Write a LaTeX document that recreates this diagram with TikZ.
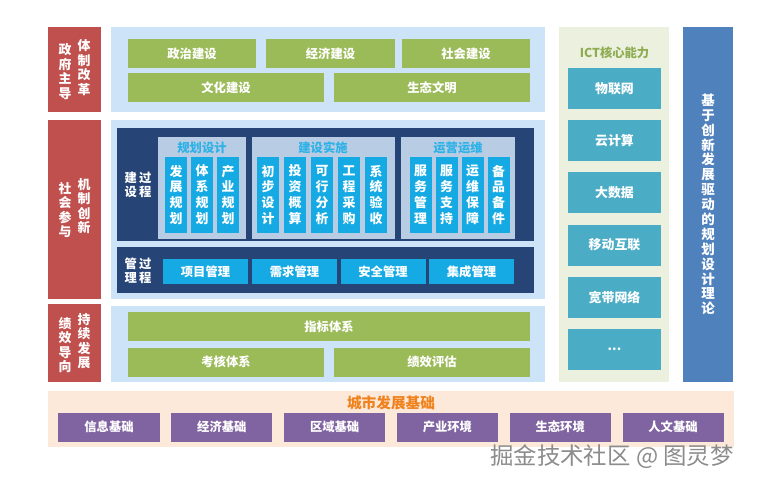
\documentclass[tikz,border=0pt]{standalone}
\usepackage{fontspec}
\setmainfont{Noto Sans CJK SC}
\definecolor{redc}{RGB}{192,80,77}
\definecolor{panelc}{RGB}{205,228,248}
\definecolor{grnc}{RGB}{155,187,89}
\definecolor{navyc}{RGB}{38,68,118}
\definecolor{subc}{RGB}{184,204,228}
\definecolor{cyanc}{RGB}{22,170,228}
\definecolor{ictbgc}{RGB}{235,241,222}
\definecolor{tealc}{RGB}{75,172,198}
\definecolor{bluec}{RGB}{79,129,189}
\definecolor{peachc}{RGB}{253,233,217}
\definecolor{orangec}{RGB}{240,130,30}
\definecolor{purplec}{RGB}{128,100,162}

\begin{document}
\begin{tikzpicture}[x=0.03cm, y=-0.03cm,
  box/.style={rectangle, inner sep=0pt, text=white, align=center,
    font=\fontsize{10.5}{12}\selectfont\bfseries},
  redbox/.style={box, fill=redc, minimum width=1.59cm},
  redtxt/.style={inner sep=0pt, text=white, align=center,
    font=\fontsize{11}{12.4}\selectfont\bfseries},
  grn/.style={box, fill=grnc, minimum height=0.87cm},
  lbl/.style={inner sep=0pt, text=white, align=center,
    font=\fontsize{10.5}{11.5}\selectfont\bfseries},
  sub/.style={inner sep=0pt, text=cyanc!90!white, font=\fontsize{10.5}{12}\selectfont\bfseries},
  col/.style={box, fill=cyanc, minimum width=0.66cm, minimum height=2.28cm,
    font=\fontsize{11}{13.6}\selectfont\bfseries},
  mgmt/.style={box, fill=cyanc, minimum width=2.55cm, minimum height=0.75cm},
  ict/.style={box, fill=tealc, minimum width=2.79cm, minimum height=1.23cm,
    font=\fontsize{11}{12}\selectfont\bfseries},
  base/.style={box, fill=purplec, minimum width=3.03cm, minimum height=0.87cm},
]

\useasboundingbox (0,0) rectangle (760,486);
\fill[white] (0,0) rectangle (760,486);

% Left headers
\node[redbox, minimum height=2.55cm] (gov) at (74.5, 69.5) {};
\node[redtxt] (gov-r) at (84, 67.5) {体\\制\\改\\革};
\node[redtxt] (gov-l) at (65, 71.5) {政\\府\\主\\导};
\node[redbox, minimum height=5.37cm] (soc) at (74.5, 209.5) {};
\node[redtxt] (soc-r) at (84, 206) {机\\制\\创\\新};
\node[redtxt] (soc-l) at (65, 210) {社\\会\\参\\与};
\node[redbox, minimum height=2.34cm] (perf) at (74.5, 343) {};
\node[redtxt] (perf-r) at (84, 341) {持\\续\\发\\展};
\node[redtxt] (perf-l) at (65, 345) {绩\\效\\导\\向};

% Top panel
\fill[panelc] (111,27) rectangle (545,112);
\node[grn, minimum width=3.84cm] (pol) at (192, 53.5) {政治建设};
\node[grn, minimum width=3.87cm] (eco) at (330.5, 53.5) {经济建设};
\node[grn, minimum width=3.84cm] (socb) at (466, 53.5) {社会建设};
\node[grn, minimum width=5.88cm] (cul) at (226, 87.5) {文化建设};
\node[grn, minimum width=5.88cm] (eng) at (432, 87.5) {生态文明};

% Middle panel
\fill[panelc] (111,120) rectangle (545,299);
\fill[navyc] (117,128) rectangle (534,241);
\fill[navyc] (117,247) rectangle (534,293);
\node[lbl] (build) at (138, 185) {建\,过\\设\,程};
\node[lbl] (manage) at (138, 271) {管\,过\\理\,程};

\fill[subc] (158,137) rectangle (246,239);
\fill[subc] (252,137) rectangle (395,239);
\fill[subc] (401,137) rectangle (515,239);
\node[sub] (plan) at (202, 148) {规划设计};
\node[sub] (impl) at (323, 148) {建设实施};
\node[sub] (oper) at (458, 148) {运营运维};

\node[col] (c1) at (176, 195) {发\\展\\规\\划};
\node[col] (c2) at (202, 195) {体\\系\\规\\划};
\node[col] (c3) at (228, 195) {产\\业\\规\\划};
\node[col] (c4) at (268, 195) {初\\步\\设\\计};
\node[col] (c5) at (295, 195) {投\\资\\概\\算};
\node[col] (c6) at (322, 195) {可\\行\\分\\析};
\node[col] (c7) at (349, 195) {工\\程\\采\\购};
\node[col] (c8) at (376, 195) {系\\统\\验\\收};
\node[col] (c9) at (420.5, 195) {服\\务\\管\\理};
\node[col] (c10) at (446.5, 195) {服\\务\\支\\持};
\node[col] (c11) at (472.5, 195) {运\\维\\保\\障};
\node[col] (c12) at (498.5, 195) {备\\品\\备\\件};

\node[mgmt] (m1) at (205.5, 271.5) {项目管理};
\node[mgmt] (m2) at (294.5, 271.5) {需求管理};
\node[mgmt] (m3) at (383, 271.5) {安全管理};
\node[mgmt] (m4) at (471.5, 271.5) {集成管理};

% Bottom panel
\fill[panelc] (111,306) rectangle (545,382);
\node[grn, minimum width=12.06cm] (idx) at (329, 326.5) {指标体系};
\node[grn, minimum width=5.88cm] (exam) at (226, 362) {考核体系};
\node[grn, minimum width=5.88cm] (eval) at (432, 362) {绩效评估};

% ICT column
\fill[ictbgc] (559,27) rectangle (669,382);
\node[inner sep=0pt, text=grnc!92!black, font=\fontsize{10.5}{12}\selectfont\bfseries]
  (ictt) at (614.5, 53) {ICT核心能力};
\node[ict] (i1) at (614.5, 88.5) {物联网};
\node[ict] (i2) at (614.5, 140.7) {云计算};
\node[ict] (i3) at (614.5, 192.9) {大数据};
\node[ict] (i4) at (614.5, 245.1) {移动互联};
\node[ict] (i5) at (614.5, 297.3) {宽带网络};
\node[ict] (i6) at (614.5, 349.5) {...};

% Theory column
\node[box, fill=bluec, minimum width=1.5cm, minimum height=10.65cm,
  font=\fontsize{11.5}{12.7}\selectfont\bfseries] (theory) at (708, 204.5)
  {基\\于\\创\\新\\发\\展\\驱\\动\\的\\规\\划\\设\\计\\理\\论};

% City foundation
\fill[peachc] (48,391) rectangle (734,447);
\node[inner sep=0pt, text=orangec, font=\fontsize{12.5}{14}\selectfont\bfseries]
  (city) at (391, 403) {城市发展基础};
\node[base] (b1) at (109, 427) {信息基础};
\node[base] (b2) at (221.8, 427) {经济基础};
\node[base] (b3) at (334.6, 427) {区域基础};
\node[base] (b4) at (447.4, 427) {产业环境};
\node[base] (b5) at (560.2, 427) {生态环境};
\node[base] (b6) at (673, 427) {人文基础};

% Watermark
\node[inner sep=0pt, text=black!45, font=\fontsize{20}{22}\selectfont]
  (wm) at (612, 457) {掘金技术社区 @ 图灵梦};

\end{tikzpicture}
\end{document}
